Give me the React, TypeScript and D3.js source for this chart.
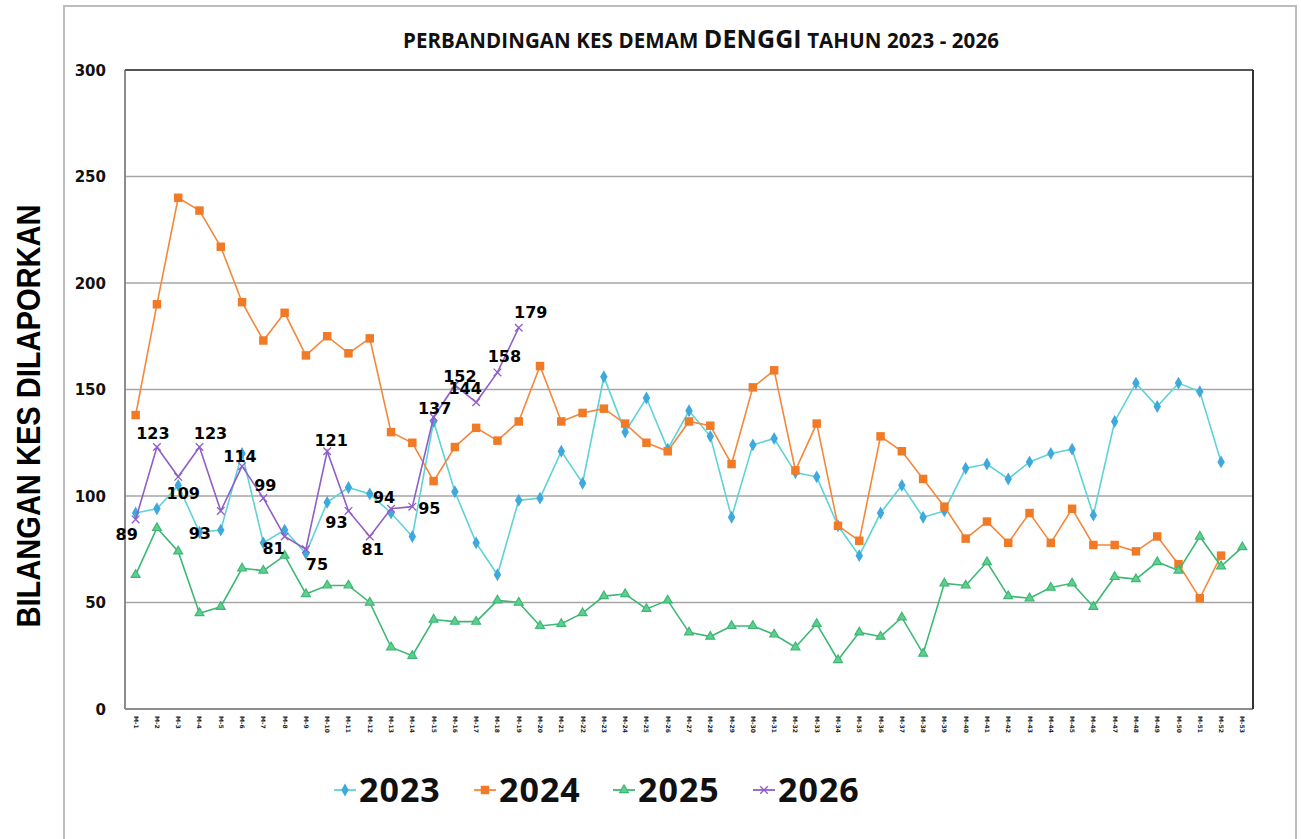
import { useMemo } from 'react';
import * as d3 from 'd3';

const WEEKS = d3.range(1, 54).map((i) => `M-${i}`);

const Y_TICKS = [0, 50, 100, 150, 200, 250, 300];

const CASES_2023 = [
  92, 94, 105, 83, 84, 120, 78, 84, 73, 97, 104, 101, 92, 81, 135, 102, 78, 63, 98, 99,
  121, 106, 156, 130, 146, 122, 140, 128, 90, 124, 127, 111, 109, 86, 72, 92, 105, 90, 93, 113,
  115, 108, 116, 120, 122, 91, 135, 153, 142, 153, 149, 116,
];

const CASES_2024 = [
  138, 190, 240, 234, 217, 191, 173, 186, 166, 175, 167, 174, 130, 125, 107, 123, 132, 126, 135, 161,
  135, 139, 141, 134, 125, 121, 135, 133, 115, 151, 159, 112, 134, 86, 79, 128, 121, 108, 95, 80,
  88, 78, 92, 78, 94, 77, 77, 74, 81, 68, 52, 72,
];

const CASES_2025 = [
  63, 85, 74, 45, 48, 66, 65, 72, 54, 58, 58, 50, 29, 25, 42, 41, 41, 51, 50, 39,
  40, 45, 53, 54, 47, 51, 36, 34, 39, 39, 35, 29, 40, 23, 36, 34, 43, 26, 59, 58,
  69, 53, 52, 57, 59, 48, 62, 61, 69, 65, 81, 67, 76,
];

const CASES_2026 = [89, 123, 109, 123, 93, 114, 99, 81, 75, 121, 93, 81, 94, 95, 137, 152, 144, 158, 179];

// label offsets for the 2026 data labels (dx, dy from the point)
const LABEL_OFFSETS: [number, number][] = [
  [-9, 21], [-4, -8], [5, 22], [11, -8], [-21, 28], [-2, -4], [2, -7], [-11, 18], [11, 21], [4, -5],
  [-12, 17], [3, 19], [-7, -6], [17, 7], [1, -3], [5, -3], [-11, -8], [7, -10], [12, -10],
];

const SERIES = [
  { name: '2023', values: CASES_2023, line: '#5dd3d8', fill: '#3fa8dc', marker: 'diamond' },
  { name: '2024', values: CASES_2024, line: '#f5873a', fill: '#f07a26', marker: 'square' },
  { name: '2025', values: CASES_2025, line: '#3db874', fill: '#5fcf8f', marker: 'triangle' },
  { name: '2026', values: CASES_2026, line: '#8f5fc8', fill: '#8f5fc8', marker: 'x' },
];

const W = 1301, H = 839;
const PLOT = { left: 125, right: 1253, top: 70, bottom: 709 };

function Marker({ kind, x, y, line, fill }: { kind: string; x: number; y: number; line: string; fill: string }) {
  if (kind === 'x') {
    const r = 3.8;
    return (
      <path
        d={`M${x - r},${y - r}L${x + r},${y + r}M${x - r},${y + r}L${x + r},${y - r}`}
        stroke={line}
        strokeWidth={1.3}
        fill="none"
      />
    );
  }
  const type = kind === 'diamond' ? d3.symbolDiamond : kind === 'square' ? d3.symbolSquare : d3.symbolTriangle;
  const size = kind === 'diamond' ? 48 : kind === 'square' ? 72 : 34;
  const p = d3.symbol().type(type).size(size)()!;
  return (
    <path
      d={p}
      transform={`translate(${x},${y})`}
      fill={fill}
      stroke={kind === 'triangle' ? line : 'none'}
      strokeWidth={kind === 'triangle' ? 1.2 : 0}
    />
  );
}

export default function App() {
  const x = useMemo(
    () => d3.scalePoint<string>().domain(WEEKS).range([PLOT.left, PLOT.right]).padding(0.5),
    []
  );
  const y = useMemo(() => d3.scaleLinear().domain([0, 300]).range([PLOT.bottom, PLOT.top]), []);

  const line = d3
    .line<number>()
    .x((_, i) => x(WEEKS[i])!)
    .y((d) => y(d));

  const legendX = [334, 474, 613, 753];

  return (
    <svg
      width={W}
      height={H}
      style={{ position: 'absolute', left: 0, top: 0, background: '#fff' }}
      fontFamily="'DejaVu Sans', sans-serif"
    >
      {/* outer chart frame */}
      <rect x={64} y={6} width={1232} height={H} fill="none" stroke="#bdbdbd" strokeWidth={2} />

      {/* title */}
      <text
        x={701}
        y={48}
        textAnchor="middle"
        fontFamily="'Open Sans', sans-serif"
        fontWeight={700}
        fontSize={20.5}
        fill="#111"
        letterSpacing={0.1}
      >
        PERBANDINGAN KES DEMAM <tspan fontSize={25}>DENGGI</tspan> TAHUN 2023 - 2026
      </text>

      {/* y-axis title */}
      <text
        transform="translate(40,416) rotate(-90)"
        textAnchor="middle"
        fontFamily="'Liberation Sans', Arial, sans-serif"
        fontWeight={700}
        fontSize={34}
        textLength={423}
        lengthAdjust="spacingAndGlyphs"
        fill="#000"
      >
        BILANGAN KES DILAPORKAN
      </text>

      {/* gridlines */}
      {Y_TICKS.filter((t) => t > 0 && t < 300).map((t) => (
        <line key={t} x1={PLOT.left} x2={PLOT.right} y1={y(t)} y2={y(t)} stroke="#a6a6a6" strokeWidth={1.5} />
      ))}

      {/* plot area border */}
      <line x1={PLOT.left} x2={PLOT.left} y1={PLOT.top} y2={PLOT.bottom} stroke="#8c8c8c" strokeWidth={2} />
      <line x1={PLOT.left} x2={PLOT.right} y1={PLOT.bottom} y2={PLOT.bottom} stroke="#8c8c8c" strokeWidth={2} />
      <line x1={PLOT.left} x2={PLOT.right} y1={PLOT.top} y2={PLOT.top} stroke="#555" strokeWidth={2} />
      <line x1={PLOT.right} x2={PLOT.right} y1={PLOT.top} y2={PLOT.bottom} stroke="#333" strokeWidth={2} />

      {/* y tick labels */}
      {Y_TICKS.map((t) => (
        <text key={t} x={106} y={y(t) + 5.5} textAnchor="end" fontWeight={700} fontSize={15} fill="#111">
          {t}
        </text>
      ))}

      {/* x tick labels */}
      {WEEKS.map((w) => (
        <text
          key={w}
          transform={`translate(${x(w)! - 2},716) rotate(90)`}
          fontSize={6}
          fontWeight={700}
          fill="#222"
        >
          {w}
        </text>
      ))}

      {/* series */}
      {SERIES.map((s) => (
        <g key={s.name}>
          <path d={line(s.values) ?? ''} fill="none" stroke={s.line} strokeWidth={1.6} />
          {s.values.map((v, i) => (
            <Marker key={i} kind={s.marker} x={x(WEEKS[i])!} y={y(v)} line={s.line} fill={s.fill} />
          ))}
        </g>
      ))}

      {/* 2026 data labels */}
      {CASES_2026.map((v, i) => (
        <text
          key={i}
          x={x(WEEKS[i])! + LABEL_OFFSETS[i][0]}
          y={y(v) + LABEL_OFFSETS[i][1]}
          textAnchor="middle"
          fontWeight={700}
          fontSize={16}
          fill="#000"
        >
          {v}
        </text>
      ))}

      {/* legend */}
      {SERIES.map((s, i) => (
        <g key={s.name}>
          <line x1={legendX[i]} x2={legendX[i] + 22} y1={790} y2={790} stroke={s.line} strokeWidth={1.8} />
          <Marker kind={s.marker} x={legendX[i] + 11} y={790} line={s.line} fill={s.fill} />
          <text
            x={legendX[i] + 25}
            y={802}
            fontFamily="'Open Sans', sans-serif"
            fontWeight={700}
            fontSize={34}
            letterSpacing={1}
            fill="#111"
          >
            {s.name}
          </text>
        </g>
      ))}
    </svg>
  );
}
